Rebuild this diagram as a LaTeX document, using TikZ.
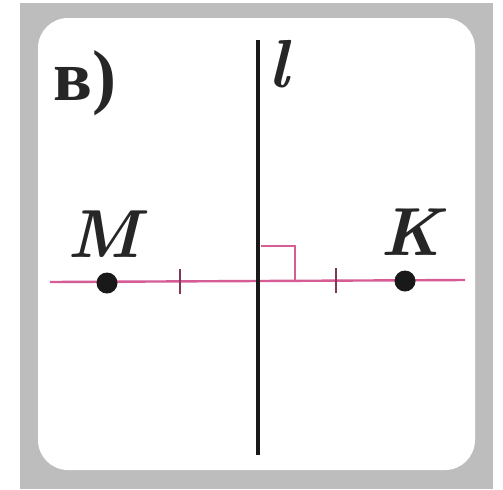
\documentclass[tikz,border=0pt]{standalone}
\usepackage{fontspec}
\newfontfamily\labelfont{Liberation Serif}
\usepackage{xcolor}
\usepackage{tikz}
\usetikzlibrary{positioning}
\definecolor{LinePink}{HTML}{D65C96}
\definecolor{FrameGray}{HTML}{BDBDBD}
\tikzset{
  dot/.style={circle, fill=black!90, inner sep=0pt, minimum size=10.5pt},
  axisline/.style={line width=2pt, black!90},
  perpline/.style={line width=1.2pt, LinePink},
  tickmark/.style={line width=0.9pt, LinePink!60!black},
  rightangle/.style={line width=0.9pt, LinePink},
  letter/.style={font=\fontsize{34}{34}\selectfont\bfseries\itshape, inner sep=0pt, text=black!85}
}

\begin{document}
\begin{tikzpicture}[x=0.5pt, y=-0.5pt]
  \useasboundingbox (0,0) rectangle (503,489);
  % frame
  \fill[FrameGray] (20,3) rectangle (493,489);
  \fill[white, rounded corners=15pt] (38,18) rectangle (475,470);
  \node[anchor=base west, inner sep=0pt, text=black!85,
    font=\fontsize{36}{36}\selectfont\labelfont\bfseries] (tag) at (53,100) {в)};
  % line l and the perpendicular
  \coordinate (ltop) at (258,40);
  \coordinate (lbot) at (258,455);
  \coordinate (pleft) at (50,282);
  \coordinate (pright) at (465,280);
  \draw[perpline] (pleft) -- (pright);
  \draw[axisline] (ltop) -- (lbot);
  \node[letter, anchor=south] (lname) at (279,88) {l};
  \draw[rightangle] (261,246) -- (295,246) -- (295,281);
  \draw[tickmark] (180,269) -- (180,294);
  \draw[tickmark] (336,268) -- (336,293);
  % points
  \node[dot] (M) at (107,283) {};
  \node[dot] (K) at (405,281) {};
  \node[letter, above=7pt of M, xshift=-1.5pt] (Mname) {M};
  \node[letter, above=7pt of K, xshift=3pt] (Kname) {K};
\end{tikzpicture}
\end{document}
